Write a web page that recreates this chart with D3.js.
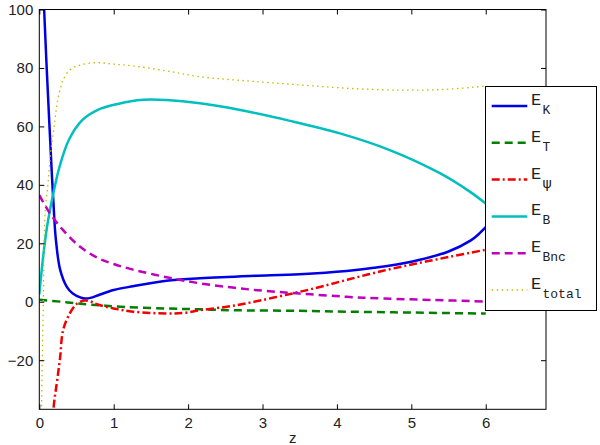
<!DOCTYPE html>
<html><head><meta charset="utf-8">
<script src="https://cdn.jsdelivr.net/npm/d3@7"></script>
<style>body{margin:0;background:#fff}svg{display:block}</style>
</head><body>
<script>
// ---- data ----
const xTicks = [0,1,2,3,4,5,6];
const yTicks = [-20,0,20,40,60,80,100];
const zK   = [0.05,0.065,0.12,0.17,0.19,0.22,0.28,0.37,0.45,0.55,0.62,0.7,0.8,1.0,1.26,1.71,2.16,2.83,3.5,4.13,4.5,5.0,5.5,5.8,5.9,6.0];
const vK   = [115,100,69,43,34,22,11,5.1,2.8,1.5,1.1,1.4,2.3,4.0,5.3,7.2,8.0,8.8,9.4,10.5,11.6,13.7,17.2,21.0,23.0,25.5];
const zT   = [0,0.3,0.59,0.82,1.0,1.71,2.16,2.6,3.5,4.13,5.0,5.92,6.0];
const vT   = [0.7,0,-0.8,-1.2,-1.6,-2.3,-2.6,-2.9,-3.1,-3.4,-3.7,-4.0,-4.0];
const zPsi = [0.12,0.19,0.24,0.28,0.32,0.41,0.5,0.6,0.68,0.77,1.0,1.26,1.71,1.94,2.16,2.52,2.83,3.5,3.73,4.15,4.62,5.07,5.52,6.0];
const vPsi = [-80,-36.8,-27,-19,-9.7,-4,-0.8,0.4,0.2,-0.8,-2.3,-3.4,-4.0,-3.8,-2.9,-1.7,-0.3,3.4,4.8,7.6,10.6,13.1,15.4,17.8];
const zB   = [0,0.05,0.1,0.18,0.27,0.4,0.58,0.78,1.04,1.4,1.71,2.16,2.7,3.37,4.04,4.71,5.39,5.79,6.0];
const vB   = [2.5,15,25,36,46,55.5,62.2,65.6,67.6,69.1,69,67.9,65.6,61.9,57.6,51.9,43.9,37.6,33.6];
const zBnc = [0,0.144,0.32,0.55,0.8,1.0,1.26,1.71,2.16,2.83,3.5,4.13,4.62,5.3,6.0];
const vBnc = [36.5,30.2,24.5,18.8,14.8,12.9,11.0,8.4,6.3,4.2,2.8,1.7,1.1,0.6,0.1];
const zTot = [0.02,0.03,0.054,0.077,0.113,0.135,0.157,0.2,0.247,0.29,0.32,0.41,0.55,0.77,1.0,1.26,1.71,2.16,2.83,3.5,4.18,4.85,5.4,5.92,6.0];
const vTot = [-70,-37,0,30,39.3,46,52,60,69,73.6,75.9,79.3,81,81.8,81.3,80.7,79,77,75.5,74.2,73.0,72.4,72.6,73.6,73.8];
const seriesNames = ["K","T","\u03c8","B","Bnc","total"];

const W = 600, H = 445;
const L = 39.3, R = 546, T = 9.5, B = 409.3;
const svg = d3.select("body").append("svg").attr("width", W).attr("height", H);
const x = d3.scaleLinear().domain([0, 6.81]).range([L, R]);
const y = d3.scaleLinear().domain([-36.8, 100]).range([B, T]);

const styles = [
  {z:zK,   v:vK,   color:"#0000e6", w:2.5, dash:null},
  {z:zT,   v:vT,   color:"#007f00", w:2.5, dash:"8,5"},
  {z:zPsi, v:vPsi, color:"#f00000", w:2.5, dash:"8,3,2,3"},
  {z:zB,   v:vB,   color:"#00bfbf", w:2.5, dash:null},
  {z:zBnc, v:vBnc, color:"#bf00bf", w:2.5, dash:"8,5"},
  {z:zTot, v:vTot, color:"#bfbf00", w:1.3, dash:"1.5,3.5"}
];

svg.append("clipPath").attr("id","clip").append("rect")
  .attr("x", L).attr("y", T-0.5).attr("width", R-L).attr("height", B-T+0.5);

const line = d3.line().x(d => x(d[0])).y(d => y(d[1])).curve(d3.curveCatmullRom.alpha(0.5));
const g = svg.append("g").attr("clip-path","url(#clip)");
styles.forEach(s => {
  g.append("path").datum(s.z.map((z,i)=>[z, s.v[i]]))
    .attr("d", line).attr("fill","none").attr("stroke", s.color)
    .attr("stroke-width", s.w).attr("stroke-dasharray", s.dash)
    .attr("stroke-linejoin","round");
});

// axes
const font = "'Liberation Sans', Arial, sans-serif";
const ax = svg.append("g").attr("transform",`translate(0,${B})`)
  .call(d3.axisBottom(x).tickValues(xTicks).tickFormat(d3.format("d")).tickSizeInner(-5).tickSizeOuter(0).tickPadding(8));
const ay = svg.append("g").attr("transform",`translate(${L},0)`)
  .call(d3.axisLeft(y).tickValues(yTicks).tickFormat(d => d < 0 ? "\u2212" + Math.abs(d) : d).tickSizeInner(-5).tickSizeOuter(0).tickPadding(6));
const at = svg.append("g").attr("transform",`translate(0,${T})`)
  .call(d3.axisTop(x).tickValues(xTicks).tickSizeInner(-5).tickSizeOuter(0).tickFormat(""));
const ar = svg.append("g").attr("transform",`translate(${R},0)`)
  .call(d3.axisRight(y).tickValues(yTicks).tickSizeInner(-5).tickSizeOuter(0).tickFormat(""));
[ax,ay,at,ar].forEach(a => {
  a.select(".domain").remove();
  a.selectAll("text").attr("font-family", font).attr("font-size", 15).attr("fill","#222");
  a.selectAll("line").attr("stroke","#000");
});
svg.append("rect").attr("x",L).attr("y",T).attr("width",R-L).attr("height",B-T)
  .attr("fill","none").attr("stroke","#000").attr("stroke-width",1);

svg.append("text").attr("x",(L+R)/2).attr("y",443).attr("text-anchor","middle")
  .attr("font-family",font).attr("font-size",15).attr("fill","#222").text("z");

// legend
const lg = svg.append("g");
lg.append("rect").attr("x",485.5).attr("y",86.5).attr("width",111).attr("height",224)
  .attr("fill","#fff").attr("stroke","#000").attr("stroke-width",1);
const mono = "'Liberation Mono', 'DejaVu Sans Mono', monospace";
styles.forEach((s,i) => {
  const ly = 106 + i*36.8;
  lg.append("line").attr("x1",491.7).attr("x2",527.3).attr("y1",ly).attr("y2",ly)
    .attr("stroke",s.color).attr("stroke-width",s.w).attr("stroke-dasharray",s.dash);
  lg.append("text").attr("x",531).attr("y",ly-1)
    .attr("font-family",mono).attr("font-size",17).attr("fill","#222").text("E");
  lg.append("text").attr("x",542.5).attr("y",ly+8)
    .attr("font-family", i===2 ? "'DejaVu Sans', sans-serif" : mono)
    .attr("font-size", i===2 ? 14 : 13).attr("fill","#222").text(seriesNames[i]);
});
</script>
</body></html>
